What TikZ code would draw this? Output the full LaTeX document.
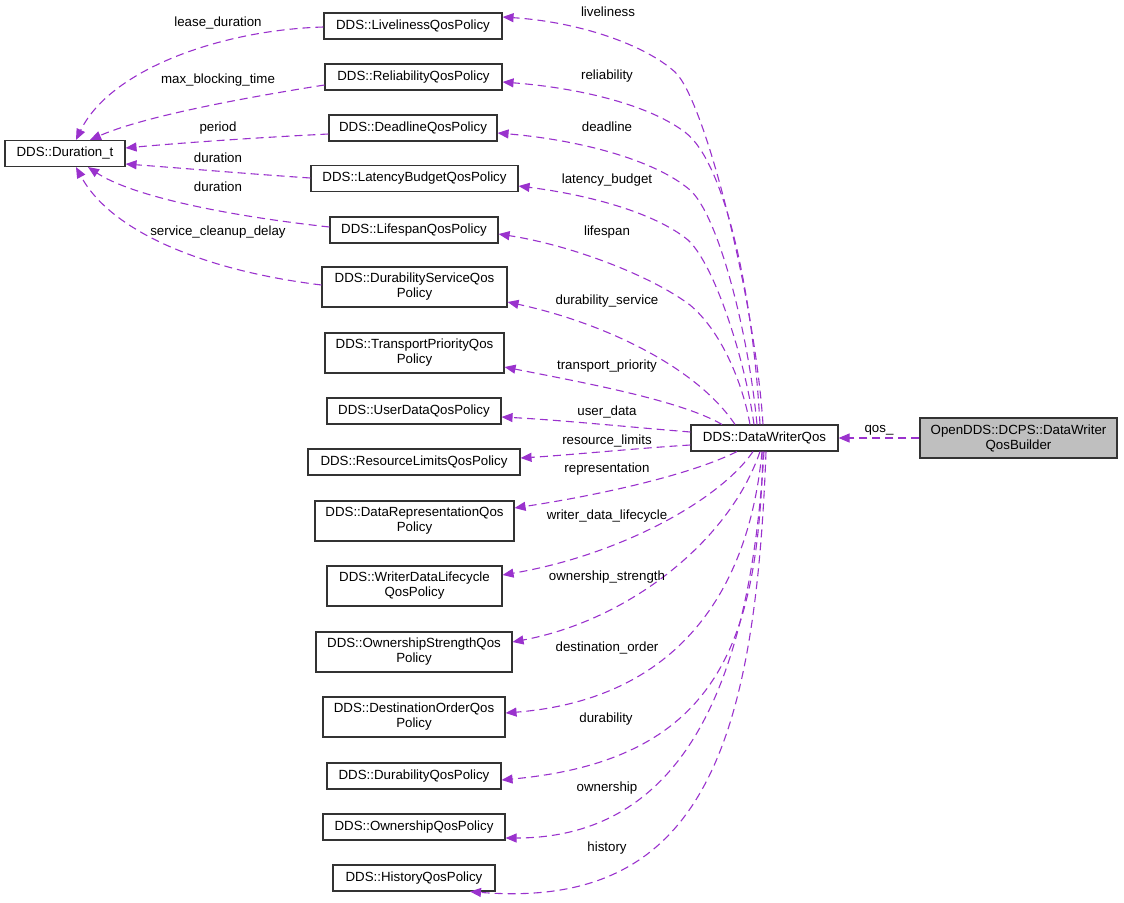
\documentclass[tikz,border=0pt]{standalone}
\usepackage{fontspec}
\setmainfont{Liberation Sans}
\usetikzlibrary{arrows.meta}
\definecolor{edgec}{HTML}{9A32CD}
\definecolor{fillg}{HTML}{BFBFBF}
\begin{document}
\begin{tikzpicture}[x=1pt,y=-1pt,
 box/.style={draw=black!80, line width=1.1pt, inner sep=0pt, align=center, font=\fontsize{13.3}{15}\selectfont, minimum height=26pt},
 tall/.style={minimum height=40pt},
 lbl/.style={inner sep=0pt, font=\fontsize{13.3}{15}\selectfont},
 edge/.style={draw=edgec, line width=1.1pt, dash pattern=on 8pt off 5pt, -{Triangle[length=11pt,width=9pt]}, fill=none}
]
\useasboundingbox (0,0) rectangle (1124,902);
% nodes
\node[box, minimum width=120pt] (dur) at (65,153.5) {DDS::Duration\_t};
\node[box, minimum width=178pt] (live) at (413,26) {DDS::LivelinessQosPolicy};
\node[box, minimum width=177pt] (rel) at (413.5,77) {DDS::ReliabilityQosPolicy};
\node[box, minimum width=168pt] (dead) at (413,128) {DDS::DeadlineQosPolicy};
\node[box, minimum width=207pt] (lat) at (414.5,178.5) {DDS::LatencyBudgetQosPolicy};
\node[box, minimum width=168pt] (life) at (414,230) {DDS::LifespanQosPolicy};
\node[box, tall, minimum width=185pt] (dsvc) at (414.5,287) {DDS::DurabilityServiceQos\\Policy};
\node[box, tall, minimum width=179pt] (tprio) at (414.5,353) {DDS::TransportPriorityQos\\Policy};
\node[box, minimum width=174pt] (udata) at (414,411) {DDS::UserDataQosPolicy};
\node[box, minimum width=212pt] (rlim) at (414,462) {DDS::ResourceLimitsQosPolicy};
\node[box, tall, minimum width=199pt] (drep) at (414.5,521) {DDS::DataRepresentationQos\\Policy};
\node[box, tall, minimum width=175pt] (wdl) at (414.5,586) {DDS::WriterDataLifecycle\\QosPolicy};
\node[box, tall, minimum width=196pt] (ostr) at (414,652) {DDS::OwnershipStrengthQos\\Policy};
\node[box, tall, minimum width=182pt] (dord) at (414,717) {DDS::DestinationOrderQos\\Policy};
\node[box, minimum width=174pt] (durq) at (414,776) {DDS::DurabilityQosPolicy};
\node[box, minimum width=182pt] (own) at (414,827) {DDS::OwnershipQosPolicy};
\node[box, minimum width=162pt] (hist) at (414,878) {DDS::HistoryQosPolicy};
\node[box, minimum width=147pt] (dwq) at (764.5,438) {DDS::DataWriterQos};
\node[box, tall, minimum width=197pt, fill=fillg] (bld) at (1018.5,438) {OpenDDS::DCPS::DataWriter\\QosBuilder};

% edges to Duration_t
\draw[edge] (live.west |- 0,27) .. controls (220,30) and (110,70) .. (dur.north -| 76,0);
\draw[edge] (rel.west |- 0,85) .. controls (230,100) and (140,118) .. (dur.north -| 90,0);
\draw[edge] (dead.west |- 0,134) .. controls (250,138) and (180,143) .. (dur.east |- 0,148);
\draw[edge] (lat.west |- 0,178) .. controls (250,174) and (180,168) .. (dur.east |- 0,164);
\draw[edge] (life.west |- 0,227) .. controls (220,215) and (130,195) .. (dur.south -| 88,0);
\draw[edge] (dsvc.west |- 0,285) .. controls (200,270) and (110,230) .. (dur.south -| 76,0);
\node[lbl] (l1) at (218,23) {lease\_duration};
\node[lbl] (l2) at (218,80) {max\_blocking\_time};
\node[lbl] (l3) at (218,128) {period};
\node[lbl] (l4) at (218,158) {duration};
\node[lbl] (l5) at (218,187) {duration};
\node[lbl] (l6) at (218,232) {service\_cleanup\_delay};

% edges from DataWriterQos
\draw[edge] (dwq.north -| 763,0) .. controls (755,300) and (705,100) .. (675,72) .. controls (645,45) and (580,22) .. (live.east |- 0,17);
\draw[edge] (dwq.north -| 760,0) .. controls (752,280) and (722,161) .. (686,133) .. controls (650,105) and (580,88) .. (rel.east |- 0,82);
\draw[edge] (dwq.north -| 757,0) .. controls (748,330) and (718,215) .. (690,190) .. controls (655,160) and (580,140) .. (dead.east |- 0,133);
\draw[edge] (dwq.north -| 754,0) .. controls (745,360) and (715,265) .. (688,240) .. controls (655,213) and (590,195) .. (lat.east |- 0,186);
\draw[edge] (dwq.north -| 750,0) .. controls (742,380) and (720,330) .. (690,305) .. controls (650,275) and (570,245) .. (life.east |- 0,234);
\draw[edge] (dwq.north -| 735,0) .. controls (695,365) and (600,322) .. (dsvc.east |- 0,302);
\draw[edge] (dwq.north -| 722,0) .. controls (680,400) and (580,382) .. (tprio.east |- 0,367);
\draw[edge] (dwq.west |- 0,432) .. controls (640,428) and (560,420) .. (udata.east |- 0,417);
\draw[edge] (dwq.west |- 0,445) .. controls (640,448) and (570,455) .. (rlim.east |- 0,458);
\draw[edge] (dwq.south -| 737,0) .. controls (690,475) and (600,495) .. (drep.east |- 0,508);
\draw[edge] (dwq.south -| 753,0) .. controls (720,500) and (620,555) .. (wdl.east |- 0,575);
\draw[edge] (dwq.south -| 760,0) .. controls (730,540) and (630,620) .. (ostr.east |- 0,642);
\draw[edge] (dwq.south -| 762,0) .. controls (748,600) and (670,700) .. (dord.east |- 0,713);
\draw[edge] (dwq.south -| 763,0) .. controls (758,640) and (720,760) .. (durq.east |- 0,780);
\draw[edge] (dwq.south -| 764,0) .. controls (752,650) and (700,838) .. (own.east |- 0,838);
\draw[edge] (dwq.south -| 766,0) .. controls (755,750) and (700,910) .. (hist.south -| 470,0);
\draw[edge] (bld.west) -- (dwq.east);

\node[lbl] (r1) at (608,12) {liveliness};
\node[lbl] (r2) at (607,76) {reliability};
\node[lbl] (r3) at (607,127) {deadline};
\node[lbl] (r4) at (607,180) {latency\_budget};
\node[lbl] (r5) at (607,232) {lifespan};
\node[lbl] (r6) at (607,301) {durability\_service};
\node[lbl] (r7) at (607,366) {transport\_priority};
\node[lbl] (r8) at (607,412) {user\_data};
\node[lbl] (r9) at (607,441) {resource\_limits};
\node[lbl] (r10) at (607,469) {representation};
\node[lbl] (r11) at (607,516) {writer\_data\_lifecycle};
\node[lbl] (r12) at (607,577) {ownership\_strength};
\node[lbl] (r13) at (607,648) {destination\_order};
\node[lbl] (r14) at (606,719) {durability};
\node[lbl] (r15) at (607,788) {ownership};
\node[lbl] (r16) at (607,848) {history};
\node[lbl] (q) at (879,430) {qos\_};
\end{tikzpicture}
\end{document}
